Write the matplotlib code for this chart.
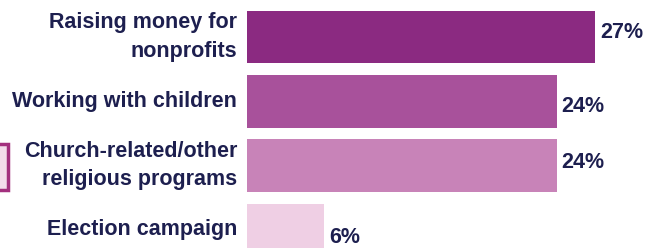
import matplotlib
matplotlib.use("Agg")
import matplotlib.pyplot as plt
from matplotlib.patches import Rectangle

categories = ["Raising money for\nnonprofits", "Working with children",
              "Church-related/other\nreligious programs", "Election campaign"]
values = [27, 24, 24, 6]
value_labels = ["27%", "24%", "24%", "6%"]

bar_colors = ["#8B2A81", "#A8519B", "#C883B8", "#EFCFE4"]
label_dy_px = [-4, 5, -3, 8]   # value-label vertical nudge (style)
fam = ["Liberation Sans", "DejaVu Sans"]
text_color = "#1D1F4F"

W, H = 645, 248
PX_PER_UNIT = 12.9
ROW_PX = 64.3
fig = plt.figure(figsize=(W / 100, H / 100), dpi=100)
fig.patch.set_facecolor("white")

ax = fig.add_axes([247 / W, 0, 1 - 247 / W, 1])
ax.set_xlim(0, (W - 247) / PX_PER_UNIT)
ax.set_ylim((H - 37) / ROW_PX, -37 / ROW_PX)
ax.axis("off")

ys = list(range(len(values)))
ax.barh(ys, values, height=0.82, color=bar_colors, edgecolor="none")

for y, v, lab, dy in zip(ys, values, value_labels, label_dy_px):
    ax.text(v + 0.35, y + dy / ROW_PX, lab, ha="left", va="center", fontsize=15.5,
            fontweight="bold", color=text_color, family=fam)

for y, cat in zip(ys, categories):
    ax.text(-0.75, y, cat, ha="right", va="center", fontsize=15.5,
            fontweight="bold", color=text_color, family=fam,
            linespacing=1.45, multialignment="right")

# partial legend swatch at the left edge
fig.patches.append(Rectangle((-8 / W, 1 - 190 / H), 16 / W, 46 / H,
                             transform=fig.transFigure, facecolor="#F3DCEB",
                             edgecolor="#A3307E", linewidth=2.5))

fig.savefig("out.png", dpi=100)
